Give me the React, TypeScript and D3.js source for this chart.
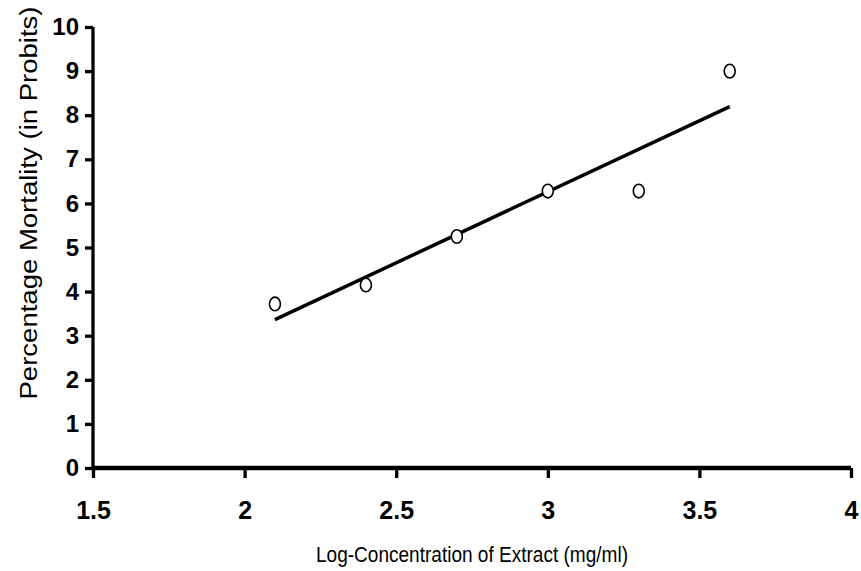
import { useRef, useEffect } from 'react'
import * as d3 from 'd3'

const logConc = [2.1, 2.4, 2.7, 3.0, 3.3, 3.6]
const probits = [3.72, 4.15, 5.25, 6.28, 6.28, 9.0]
const xTicks = [1.5, 2, 2.5, 3, 3.5, 4]
const yTicks = [0, 1, 2, 3, 4, 5, 6, 7, 8, 9, 10]

const width = 861
const height = 571
const left = 93
const right = 851
const top = 27
const bottom = 468

const App = () => {
  const elRef = useRef<SVGSVGElement>(null)

  useEffect(() => {
    const svg = d3.select(elRef.current as SVGSVGElement)
    svg.selectAll('*').remove()

    const x = d3.scaleLinear().domain([1.5, 4]).range([left, right])
    const y = d3.scaleLinear().domain([0, 10]).range([bottom, top])

    // least squares fit line
    const mx = d3.mean(logConc) as number
    const my = d3.mean(probits) as number
    const sxy = d3.sum(logConc, (v, i) => (v - mx) * (probits[i] - my))
    const sxx = d3.sum(logConc, (v) => (v - mx) ** 2)
    const slope = sxy / sxx
    const icpt = my - slope * mx
    const ends = d3.extent(logConc) as [number, number]

    const font = "'Liberation Sans', Arial, sans-serif"

    const yAxis = svg.append('g').attr('transform', `translate(${left},0)`)
      .call(d3.axisLeft(y).tickValues(yTicks).tickSize(8).tickPadding(6).tickFormat(d3.format('d')))
    yAxis.select('.domain').attr('stroke-width', 3.3).attr('d', `M0,${top}V${bottom}`)
    yAxis.selectAll('.tick line').attr('stroke-width', 3.3)
    yAxis.selectAll('.tick text')
      .attr('font-family', font).attr('font-weight', 'bold').attr('font-size', 24)
      .attr('fill', '#000')

    const xAxis = svg.append('g').attr('transform', `translate(0,${bottom})`)
      .call(d3.axisBottom(x).tickValues(xTicks).tickSize(10).tickFormat((d) => String(d)))
    xAxis.select('.domain').attr('stroke-width', 4.5).attr('d', `M${left},0H${right}`)
    xAxis.selectAll('.tick line').attr('stroke-width', 3.3)
    xAxis.selectAll('.tick text')
      .attr('y', 50.5).attr('dy', null)
      .attr('font-family', font).attr('font-weight', 'bold').attr('font-size', 25)
      .attr('fill', '#000')

    svg.append('line')
      .attr('x1', x(ends[0])).attr('y1', y(icpt + slope * ends[0]))
      .attr('x2', x(ends[1])).attr('y2', y(icpt + slope * ends[1]))
      .attr('stroke', '#000').attr('stroke-width', 3.5)

    svg.append('g').selectAll('ellipse')
      .data(logConc)
      .enter()
      .append('ellipse')
      .attr('cx', (d) => x(d))
      .attr('cy', (_, i) => y(probits[i]))
      .attr('rx', 5.5).attr('ry', 6.8)
      .attr('fill', '#fff').attr('stroke', '#000').attr('stroke-width', 1.6)

    svg.append('text')
      .attr('transform', `translate(37,203) rotate(-90)`)
      .attr('text-anchor', 'middle')
      .attr('font-family', font).attr('font-size', 23.5)
      .attr('textLength', 393).attr('lengthAdjust', 'spacingAndGlyphs')
      .text('Percentage Mortality (in Probits)')

    svg.append('text')
      .attr('x', 472).attr('y', 561.5)
      .attr('text-anchor', 'middle')
      .attr('font-family', "'Liberation Sans Narrow', 'Liberation Sans', Arial, sans-serif")
      .attr('font-size', 22)
      .attr('textLength', 312).attr('lengthAdjust', 'spacingAndGlyphs')
      .text('Log-Concentration of Extract (mg/ml)')
  }, [])

  return (
    <svg ref={elRef} width={width} height={height}
      style={{ position: 'absolute', left: 0, top: 0, background: '#fff' }} />
  )
}

export default App
